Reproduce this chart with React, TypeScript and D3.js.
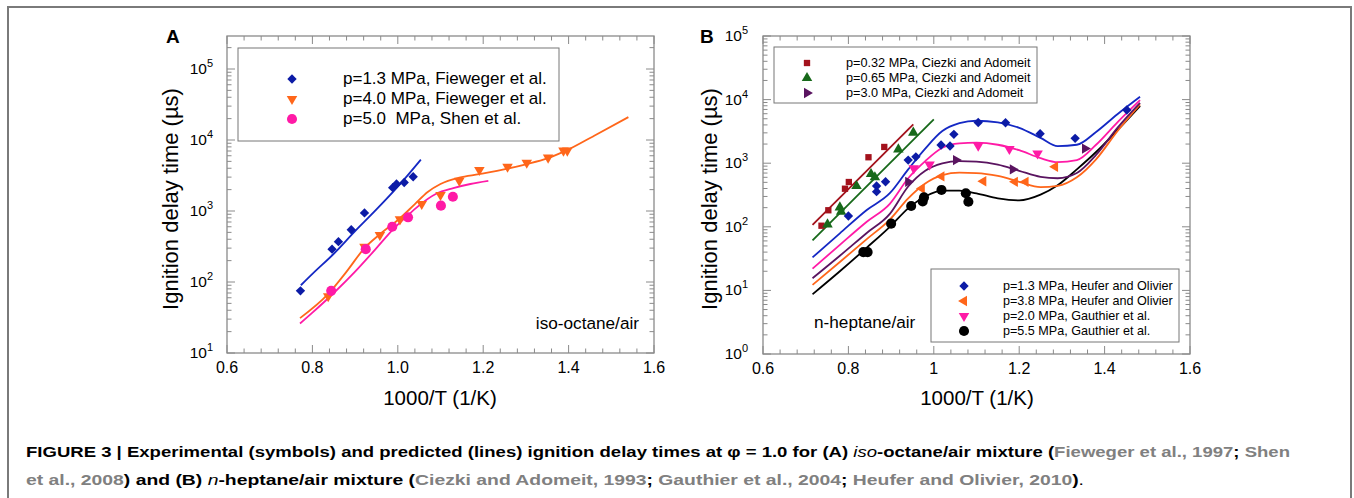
import React from "react";
import * as d3 from "d3";

// all values are [1000/T (1/K), ignition delay (µs)]

// panel A, iso-octane/air
const isoP13Fieweger = [[0.772, 75], [0.846, 290], [0.861, 370], [0.891, 545], [0.922, 940], [0.988, 2130], [0.997, 2400], [1.015, 2520], [1.036, 3040]];
const isoP40Fieweger = [[0.837, 63], [0.922, 314], [0.958, 459], [1.005, 764], [1.056, 1256], [1.1, 1680], [1.144, 2670], [1.191, 3780], [1.257, 4210], [1.302, 4790], [1.352, 5640], [1.388, 7080], [1.397, 7080]];
const isoP50Shen = [[0.844, 75], [0.925, 290], [0.987, 600], [1.024, 815], [1.101, 1190], [1.129, 1590]];
const isoModelP13 = [[0.773, 90], [0.8, 130], [0.85, 250], [0.9, 520], [0.95, 1050], [1.0, 2200], [1.054, 5300]];
const isoModelP40 = [[0.771, 31], [0.837, 68], [0.88, 140], [0.922, 300], [0.958, 470], [1.005, 790], [1.04, 1250], [1.07, 1850], [1.1, 2400], [1.144, 2950], [1.19, 3300], [1.257, 3950], [1.3, 4550], [1.35, 5500], [1.39, 6900], [1.46, 11500], [1.54, 21000]];
const isoModelP50 = [[0.771, 26], [0.8, 37], [0.85, 70], [0.9, 140], [0.95, 300], [0.99, 560], [1.02, 830], [1.05, 1200], [1.09, 1750], [1.13, 2100], [1.17, 2400], [1.212, 2650]];

// panel B, n-heptane/air
const hepP032Ciezki = [[0.737, 104], [0.753, 182], [0.792, 397], [0.801, 506], [0.847, 1240], [0.884, 1800]];
const hepP065Ciezki = [[0.751, 109], [0.78, 202], [0.783, 173], [0.819, 437], [0.853, 676], [0.862, 600], [0.917, 1650], [0.952, 3020]];
const hepP30Ciezki = [[0.94, 510], [1.052, 1120], [1.185, 800], [1.354, 1700]];
const hepP13Heufer = [[0.8, 148], [0.866, 437], [0.866, 357], [0.887, 510], [0.94, 1120], [0.958, 1260], [1.017, 1930], [1.038, 1860], [1.047, 2840], [1.104, 4370], [1.168, 4330], [1.249, 2910], [1.331, 2460], [1.452, 6860]];
const hepP38Heufer = [[0.972, 400], [1.018, 620], [1.116, 520], [1.19, 510], [1.215, 510], [1.284, 880]];
const hepP20Gauthier = [[0.953, 830], [0.99, 950], [1.104, 1880], [1.177, 1670], [1.243, 1420]];
const hepP55Gauthier = [[0.835, 40], [0.845, 40], [0.9, 112], [0.947, 212], [0.974, 250], [0.977, 290], [1.018, 380], [1.075, 337], [1.081, 248]];

const hepModelX = [0.716, 0.78, 0.843, 0.897, 0.94, 0.98, 1.02, 1.06, 1.1, 1.15, 1.2, 1.25, 1.29, 1.335, 1.38, 1.43, 1.483];
const hepModelP032 = [[0.716, 107], [0.952, 4080]];
const hepModelP065 = [[0.716, 61], [1.0, 4900]];
const hepModelP13 = [33, 79, 184, 337, 800, 1700, 3200, 4250, 4650, 4400, 3600, 2500, 1850, 1950, 3100, 5900, 11100];
const hepModelP20 = [22, 52, 120, 230, 580, 1080, 1750, 2050, 2100, 1950, 1600, 1200, 1040, 1120, 1950, 4400, 9800];
const hepModelP30 = [15.5, 35, 80, 160, 430, 760, 990, 1080, 1060, 950, 760, 610, 580, 700, 1350, 3600, 8900];
const hepModelP38 = [12.2, 28, 64, 130, 280, 480, 650, 710, 700, 630, 510, 420, 440, 600, 1150, 3200, 8430];
const hepModelP55 = [8.7, 20, 47, 100, 195, 300, 370, 370, 335, 280, 260, 320, 450, 800, 1500, 3300, 7940];

const xTickLabelsA = ["0.6", "0.8", "1.0", "1.2", "1.4", "1.6"];
const xTickLabelsB = ["0.6", "0.8", "1", "1.2", "1.4", "1.6"];

const legendA = ["p=1.3 MPa, Fieweger et al.", "p=4.0 MPa, Fieweger et al.", "p=5.0  MPa, Shen et al."];
const legendBTop = ["p=0.32 MPa, Ciezki and Adomeit", "p=0.65 MPa, Ciezki and Adomeit", "p=3.0 MPa, Ciezki and Adomeit"];
const legendBBottom = ["p=1.3 MPa, Heufer and Olivier", "p=3.8 MPa, Heufer and Olivier", "p=2.0 MPa, Gauthier et al.", "p=5.5 MPa, Gauthier et al."];

const FONT = "'Liberation Sans', Arial, Helvetica, sans-serif";
const GRID = "#8a8a8a";
const BLUE = "#0c1ba6";
const BLUE_LINE = "#1428c4";
const ORANGE = "#ff661a";
const PINK = "#ff1aa6";
const RED = "#a3121c";
const GREEN = "#17691a";
const PURPLE = "#5a1460";

const sym = (type, size, rot = 0) => ({ d: d3.symbol().type(type).size(size)(), rot });
const DIAMOND = sym(d3.symbolSquare, 44, 45);
const TRI_DOWN = sym(d3.symbolTriangle, 48, 180);
const TRI_UP = sym(d3.symbolTriangle, 48, 0);
const TRI_LEFT = sym(d3.symbolTriangle, 46, -90);
const TRI_RIGHT = sym(d3.symbolTriangle, 46, 90);
const CIRCLE = sym(d3.symbolCircle, 80);
const SQUARE = sym(d3.symbolSquare, 40);

function Marker({ x, y, s, color }) {
  return <path d={s.d} transform={`translate(${x},${y}) rotate(${s.rot})`} fill={color} />;
}

function Frame({ x, y, labels, supLabels, yLabelX }) {
  const [x0, x1] = x.range();
  const [yb, yt] = [y(y.domain()[0]), 36];
  const lo = Math.round(Math.log10(y.domain()[0]));
  const ticks = [];
  d3.range(0, 26).forEach((i) => {
    const v = 0.6 + i * 0.04;
    const len = i % 5 === 0 ? 8 : 4.5;
    const px = x(v);
    ticks.push(<line key={"xb" + i} x1={px} x2={px} y1={yb} y2={yb - len} />);
    ticks.push(<line key={"xt" + i} x1={px} x2={px} y1={yt} y2={yt + len} />);
  });
  for (let e = lo; e <= 5; e++) {
    for (let k = 1; k <= 9; k++) {
      const py = y(k * Math.pow(10, e));
      if (py < yt - 0.5) continue;
      const len = k === 1 ? 8 : 4.5;
      ticks.push(<line key={`yl${e}${k}`} x1={x0} x2={x0 + len} y1={py} y2={py} />);
      ticks.push(<line key={`yr${e}${k}`} x1={x1} x2={x1 - len} y1={py} y2={py} />);
    }
  }
  return (
    <g fontFamily={FONT}>
      <g stroke={GRID} strokeWidth={1}>{ticks}</g>
      <rect x={x0} y={yt} width={x1 - x0} height={yb - yt} fill="none" stroke={GRID} strokeWidth={1.3} />
      {labels.map((t, i) => (
        <text key={t + i} x={x(0.6 + i * 0.2)} y={yb + 20} textAnchor="middle" fontSize={16}>{t}</text>
      ))}
      {supLabels.map((e) => (
        <text key={"e" + e} x={yLabelX} y={y(Math.pow(10, e)) + 5} textAnchor="end" fontSize={15.5}>
          10<tspan dy={-7} fontSize={11}>{e}</tspan>
        </text>
      ))}
    </g>
  );
}

export default function App() {
  // panel A scales
  const xA = d3.scaleLinear().domain([0.6, 1.6]).range([227, 654]);
  const yA = d3.scaleLog().domain([10, 1e5]).range([353, 69]);
  // panel B scales
  const xB = d3.scaleLinear().domain([0.6, 1.6]).range([763, 1190]);
  const yB = d3.scaleLog().domain([1, 1e5]).range([354, 36]);

  const lineA = d3.line().x((d) => xA(d[0])).y((d) => yA(d[1])).curve(d3.curveMonotoneX);
  const lineB = d3.line().x((d) => xB(d[0])).y((d) => yB(d[1])).curve(d3.curveMonotoneX);
  const zipB = (vals) => hepModelX.map((xv, i) => [xv, vals[i]]);

  const pts = (data, xs, ys, s, color, key) =>
    data.map((d, i) => <Marker key={key + i} x={xs(d[0])} y={ys(d[1])} s={s} color={color} />);

  return (
    <svg width={1354} height={498} style={{ position: "absolute", left: 0, top: 0, background: "#fff" }}>
      <path d="M8,498 L8,7 L1351,7 L1351,498" fill="none" stroke="#7a7a7a" strokeWidth={2} />

      {/* ---- panel A ---- */}
      <text x={166} y={43} fontFamily={FONT} fontWeight="bold" fontSize={19}>A</text>
      <Frame x={xA} y={yA} labels={xTickLabelsA} supLabels={[1, 2, 3, 4, 5]} yLabelX={213} />
      <g fill="none" strokeWidth={1.8}>
        <path d={lineA(isoModelP13)} stroke={BLUE_LINE} />
        <path d={lineA(isoModelP40)} stroke={ORANGE} />
        <path d={lineA(isoModelP50)} stroke={PINK} />
      </g>
      {pts(isoP13Fieweger, xA, yA, DIAMOND, BLUE, "a1")}
      {pts(isoP40Fieweger, xA, yA, TRI_DOWN, ORANGE, "a2")}
      {pts(isoP50Shen, xA, yA, CIRCLE, PINK, "a3")}
      <rect x={238} y={48} width={321} height={93} fill="#fff" stroke="#777" strokeWidth={1} />
      {legendA.map((t, i) => (
        <g key={t}>
          <Marker x={292} y={79 + i * 20} s={[DIAMOND, TRI_DOWN, CIRCLE][i]} color={[BLUE, ORANGE, PINK][i]} />
          <text x={343} y={84 + i * 20} fontFamily={FONT} fontSize={17} style={{ whiteSpace: "pre" }}>{t}</text>
        </g>
      ))}
      <text x={639} y={329} textAnchor="end" fontFamily={FONT} fontSize={17.2}>iso-octane/air</text>
      <text transform="translate(178,199) rotate(-90)" textAnchor="middle" fontFamily={FONT} fontSize={22}>Ignition delay time (µs)</text>
      <text x={440} y={405} textAnchor="middle" fontFamily={FONT} fontSize={20.5}>1000/T (1/K)</text>

      {/* ---- panel B ---- */}
      <text x={700} y={43} fontFamily={FONT} fontWeight="bold" fontSize={19}>B</text>
      <Frame x={xB} y={yB} labels={xTickLabelsB} supLabels={[0, 1, 2, 3, 4, 5]} yLabelX={748} />
      <g fill="none" strokeWidth={1.8}>
        <path d={lineB(hepModelP032)} stroke={RED} />
        <path d={lineB(hepModelP065)} stroke={GREEN} />
        <path d={lineB(zipB(hepModelP55))} stroke="#000" />
        <path d={lineB(zipB(hepModelP38))} stroke={ORANGE} />
        <path d={lineB(zipB(hepModelP30))} stroke={PURPLE} />
        <path d={lineB(zipB(hepModelP20))} stroke={PINK} />
        <path d={lineB(zipB(hepModelP13))} stroke={BLUE_LINE} />
      </g>
      {pts(hepP032Ciezki, xB, yB, SQUARE, RED, "b1")}
      {pts(hepP065Ciezki, xB, yB, TRI_UP, GREEN, "b2")}
      {pts(hepP30Ciezki, xB, yB, TRI_RIGHT, PURPLE, "b3")}
      {pts(hepP13Heufer, xB, yB, DIAMOND, BLUE, "b4")}
      {pts(hepP38Heufer, xB, yB, TRI_LEFT, ORANGE, "b5")}
      {pts(hepP20Gauthier, xB, yB, TRI_DOWN, PINK, "b6")}
      {pts(hepP55Gauthier, xB, yB, CIRCLE, "#000", "b7")}

      <rect x={774} y={47} width={263} height={56} fill="#fff" stroke="#777" strokeWidth={1} />
      {legendBTop.map((t, i) => (
        <g key={t}>
          <Marker x={807} y={63 + i * 15} s={[SQUARE, TRI_UP, TRI_RIGHT][i]} color={[RED, GREEN, PURPLE][i]} />
          <text x={846} y={67 + i * 15} fontFamily={FONT} fontSize={12.7}>{t}</text>
        </g>
      ))}
      <rect x={931} y={269} width={248} height={73} fill="#fff" stroke="#777" strokeWidth={1} />
      {legendBBottom.map((t, i) => (
        <g key={t}>
          <Marker x={964} y={286 + i * 15} s={[DIAMOND, TRI_LEFT, TRI_DOWN, CIRCLE][i]} color={[BLUE, ORANGE, PINK, "#000"][i]} />
          <text x={1003} y={290 + i * 15} fontFamily={FONT} fontSize={12.6}>{t}</text>
        </g>
      ))}
      <text x={814} y={328} fontFamily={FONT} fontSize={17.2}>n-heptane/air</text>
      <text transform="translate(717,199) rotate(-90)" textAnchor="middle" fontFamily={FONT} fontSize={22}>Ignition delay time (µs)</text>
      <text x={977} y={405} textAnchor="middle" fontFamily={FONT} fontSize={20.5}>1000/T (1/K)</text>

      {/* ---- caption ---- */}
      <g fontFamily={FONT} fontWeight="bold" fontSize={15}>
        <text x={26} y={457} textLength={1264} lengthAdjust="spacingAndGlyphs">
          FIGURE 3 | Experimental (symbols) and predicted (lines) ignition delay times at φ = 1.0 for (A){" "}
          <tspan fontStyle="italic" fontWeight="normal">iso</tspan>-octane/air mixture (
          <tspan fill="#808080">Fieweger et al., 1997</tspan>; <tspan fill="#808080">Shen</tspan>
        </text>
        <text x={26} y={485} textLength={1058} lengthAdjust="spacingAndGlyphs">
          <tspan fill="#808080">et al., 2008</tspan>) and (B) <tspan fontStyle="italic" fontWeight="normal">n</tspan>-heptane/air mixture (
          <tspan fill="#808080">Ciezki and Adomeit, 1993</tspan>; <tspan fill="#808080">Gauthier et al., 2004</tspan>;{" "}
          <tspan fill="#808080">Heufer and Olivier, 2010</tspan>)<tspan fontWeight="normal">.</tspan>
        </text>
      </g>
    </svg>
  );
}
